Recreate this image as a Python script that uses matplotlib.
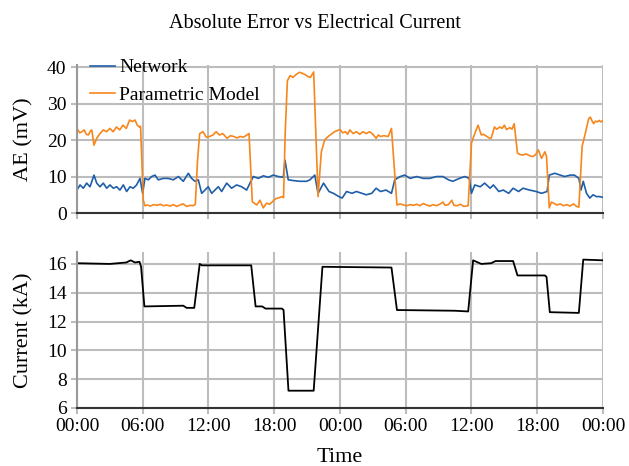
import matplotlib
matplotlib.use("Agg")
import matplotlib.pyplot as plt
import matplotlib.dates as mdates
import pandas as pd

plt.rcParams['font.family'] = ['Liberation Serif', 'DejaVu Serif']

# Absolute error (mV), hours since start
net_hours = [0.0, 0.28, 0.58, 0.88, 1.19, 1.55, 1.8, 2.1, 2.4, 2.71, 3.01, 3.32, 3.62, 3.92,
             4.23, 4.53, 4.84, 5.14, 5.44, 5.75, 5.99, 6.2, 6.51, 6.81, 7.12, 7.42, 7.88,
             8.33, 8.79, 9.25, 9.7, 10.16, 10.46, 10.77, 11.07, 11.38, 11.68, 11.98, 12.29,
             12.59, 12.9, 13.2, 13.66, 14.11, 14.57, 15.03, 15.48, 15.79, 16.09, 16.55,
             17.0, 17.46, 17.91, 18.37, 18.83, 18.98, 19.28, 19.74, 20.35, 20.95, 21.26,
             21.7, 22.0, 22.5, 23.0, 23.4, 23.9, 24.2, 24.6, 25.1, 25.5, 26.0, 26.4, 26.9,
             27.3, 27.7, 28.2, 28.7, 29.0, 29.5, 29.9, 30.4, 31.0, 31.6, 32.2, 32.8, 33.4,
             33.9, 34.3, 34.9, 35.4, 35.8, 36.0, 36.3, 36.8, 37.2, 37.7, 38.0, 38.5, 38.9,
             39.4, 39.8, 40.3, 40.7, 41.3, 41.9, 42.4, 42.9, 43.1, 43.6, 44.1, 44.5, 45.0,
             45.4, 45.8, 46.0, 46.2, 46.5, 46.8, 47.1, 47.4, 47.7, 48.0]
net_ae = [6.3, 7.7, 6.8, 8.2, 7.2, 10.4, 8.2, 7.2, 8.2, 6.8, 7.7, 6.8, 7.2, 6.3,
          7.7, 5.9, 7.2, 6.8, 7.7, 9.5, 5.4, 9.5, 9.1, 10.0, 10.4, 9.1, 9.5,
          9.5, 9.1, 10.0, 8.7, 10.9, 9.5, 8.7, 9.1, 5.4, 6.3, 7.2, 5.4,
          6.3, 7.2, 5.9, 8.2, 6.8, 7.7, 7.2, 6.3, 8.2, 10.0, 9.5,
          10.2, 9.8, 10.4, 10.0, 9.8, 14.5, 9.1, 8.9, 8.7, 8.7, 9.1,
          10.4, 5.4, 8.2, 5.9, 5.4, 4.5, 4.1, 5.9, 5.4, 5.9, 5.4, 5.0, 5.4,
          6.8, 5.9, 6.3, 5.4, 9.1, 10.0, 10.4, 9.5, 10.0, 9.5, 9.5, 10.0, 10.0,
          9.1, 8.7, 9.5, 10.0, 9.5, 5.4, 7.7, 7.2, 8.2, 6.8, 7.7, 5.9, 6.3,
          5.4, 6.8, 5.9, 6.8, 6.3, 5.9, 5.4, 5.9, 10.4, 10.9, 10.4, 10.0, 10.4,
          10.4, 9.5, 6.3, 8.7, 5.4, 4.1, 5.0, 4.5, 4.5, 4.3]

par_hours = [0.0, 0.25, 0.45, 0.65, 0.85, 1.04, 1.2, 1.35, 1.55, 1.8, 2.1, 2.4, 2.7, 3.0,
             3.3, 3.6, 3.9, 4.2, 4.5, 4.8, 5.05, 5.3, 5.5, 5.7, 5.8, 6.05, 6.2, 6.4, 6.7,
             7.0, 7.3, 7.6, 7.9, 8.2, 8.5, 8.8, 9.1, 9.4, 9.7, 10.0, 10.3, 10.6, 10.8,
             11.0, 11.2, 11.5, 11.8, 12.1, 12.4, 12.7, 13.0, 13.3, 13.7, 14.0, 14.3, 14.6,
             14.9, 15.2, 15.5, 15.7, 16.0, 16.4, 16.7, 17.0, 17.3, 17.6, 17.8, 18.0, 18.2,
             18.45, 18.7, 18.85, 19.0, 19.2, 19.45, 19.7, 20.0, 20.3, 20.6, 20.9, 21.1,
             21.3, 21.6, 22.0, 22.3, 22.6, 22.85, 23.1, 23.5, 24.0, 24.25, 24.5, 24.7,
             24.9, 25.2, 25.5, 25.8, 26.1, 26.4, 26.7, 27.0, 27.3, 27.5, 27.7, 28.0, 28.4,
             28.7, 29.2, 29.5, 29.8, 30.1, 30.4, 30.7, 31.0, 31.3, 31.6, 31.9, 32.2, 32.5,
             32.8, 33.1, 33.4, 33.6, 33.9, 34.2, 34.4, 34.7, 35.0, 35.3, 35.7, 36.0, 36.3,
             36.6, 36.9, 37.1, 37.4, 37.6, 37.8, 38.1, 38.3, 38.6, 38.8, 39.0, 39.2, 39.5,
             39.7, 39.9, 40.2, 40.45, 40.7, 40.95, 41.2, 41.4, 41.6, 41.85, 42.1, 42.4,
             42.7, 42.85, 43.1, 43.3, 43.5, 43.8, 44.1, 44.4, 44.7, 45.0, 45.3, 45.6, 45.8,
             46.1, 46.4, 46.7, 46.85, 47.0, 47.15, 47.3, 47.5, 47.65, 47.8, 48.0]
par_ae = [23.2, 22.0, 22.3, 22.8, 21.6, 21.4, 22.4, 22.8, 18.6, 20.5, 21.8, 22.8, 22.3, 23.2,
          22.3, 23.6, 22.8, 24.1, 23.2, 25.5, 25.1, 25.5, 24.1, 23.6, 23.8, 3.5, 2.0, 2.2, 1.9,
          2.3, 2.1, 2.4, 2.0, 2.2, 1.9, 2.3, 1.8, 2.2, 2.5, 1.8, 2.1, 2.0, 2.4,
          14.5, 21.8, 22.3, 20.8, 21.0, 21.4, 22.3, 21.4, 21.8, 20.5, 21.2, 21.0, 20.6,
          21.0, 20.8, 21.4, 21.8, 3.1, 2.2, 3.5, 1.4, 2.7, 2.4, 3.0, 3.6, 4.0,
          4.2, 4.5, 4.2, 21.8, 36.3, 37.7, 37.2, 38.0, 38.6, 38.3, 37.8, 37.4,
          37.2, 38.7, 4.5, 16.8, 20.0, 20.8, 21.4, 22.3, 22.9, 22.0, 22.3, 21.6,
          22.8, 21.8, 22.3, 21.6, 22.3, 21.8, 22.3, 21.6, 20.5, 21.4, 21.0, 21.2, 21.0,
          23.2, 2.2, 2.5, 2.2, 2.0, 2.3, 2.1, 2.4, 2.0, 2.6, 2.2, 1.9, 2.3,
          2.0, 2.4, 3.0, 2.1, 2.3, 3.5, 2.1, 2.0, 2.4, 1.8, 2.0, 19.2, 21.8,
          24.1, 21.4, 21.6, 21.0, 20.6, 20.5, 23.6, 23.0, 23.6, 23.2, 24.1, 22.9, 23.4,
          23.0, 24.5, 16.4, 16.0, 15.9, 16.2, 15.9, 15.6, 15.5, 16.0, 17.3, 15.0,
          16.8, 15.5, 1.4, 3.0, 2.7, 2.2, 2.5, 2.0, 2.3, 1.9, 2.5, 1.8, 1.6,
          18.3, 22.0, 25.9, 26.3, 25.3, 24.5, 25.2, 25.0, 25.4, 25.0, 25.4]

# Electrical current (kA)
cur_hours = [0.0, 3.0, 4.5, 4.9, 5.3, 5.7, 5.85, 6.15, 9.7, 10.0, 10.7, 11.2, 11.4, 15.9,
             16.3, 16.9, 17.2, 18.7, 18.85, 19.3, 21.6, 22.4, 28.7, 29.2, 34.5, 35.7,
             36.15, 36.9, 37.8, 38.2, 39.8, 40.2, 42.7, 42.85, 43.15, 45.8, 46.2, 48.0]
cur_ka = [16.05, 16.0, 16.1, 16.25, 16.1, 16.15, 15.8, 13.05, 13.1, 12.95, 12.95, 16.0, 15.9, 15.9,
          13.05, 13.05, 12.9, 12.9, 12.8, 7.2, 7.2, 15.8, 15.75, 12.8, 12.75, 12.7,
          16.25, 16.0, 16.05, 16.2, 16.2, 15.2, 15.2, 15.1, 12.65, 12.6, 16.3, 16.25]

start = pd.Timestamp("2021-01-01 00:00")


def to_time(hours):
    return start + pd.to_timedelta(hours, unit="h")


fig = plt.figure(figsize=(6.29, 4.66), dpi=100)
ax1 = fig.add_axes([0.1224, 0.5429, 0.8362, 0.3176])
ax2 = fig.add_axes([0.1224, 0.1245, 0.8362, 0.3348])

ax1.plot(to_time(net_hours), net_ae, color="#1f5ea8", lw=1.2, label="Network")
ax1.plot(to_time(par_hours), par_ae, color="#f7861c", lw=1.2, label="Parametric Model")
ax2.plot(to_time(cur_hours), cur_ka, color="black", lw=1.3)

for ax in (ax1, ax2):
    ax.set_xlim(start, start + pd.Timedelta(hours=48))
    ax.xaxis.set_major_locator(mdates.HourLocator(byhour=[0, 6, 12, 18]))
    ax.xaxis.set_major_formatter(mdates.DateFormatter("%H:%M"))
    ax.grid(True, color="#bdbdbd", lw=1.5)
    ax.set_axisbelow(True)
    ax.spines["top"].set_visible(False)
    ax.spines["right"].set_visible(False)
    ax.spines["left"].set_color("#999999")
    ax.spines["left"].set_linewidth(1.5)
    ax.spines["bottom"].set_color("#333333")
    ax.spines["bottom"].set_linewidth(1.5)
    ax.tick_params(axis="both", colors="#bdbdbd", width=1.5, length=4,
                   labelcolor="black", labelsize=14)

ax1.set_ylim(0, 40.6)
ax1.set_yticks([0, 10, 20, 30, 40])
ax1.tick_params(axis="x", labelbottom=False)
ax1.set_ylabel("AE (mV)", fontsize=16)
ax1.yaxis.set_label_coords(-0.083, 0.5)
fig.suptitle("Absolute Error vs Electrical Current", fontsize=14.5, x=0.5, y=0.94,
             va="baseline")
ax1.legend(loc="upper left", bbox_to_anchor=(0.01, 1.095), frameon=False, fontsize=14,
           handlelength=1.3, handletextpad=0.2, borderaxespad=0, labelspacing=0.5)

ax2.set_ylim(6, 16.83)
ax2.set_yticks([6, 8, 10, 12, 14, 16])
ax2.set_ylabel("Current (kA)", fontsize=16)
ax2.yaxis.set_label_coords(-0.083, 0.5)
ax2.set_xlabel("Time", fontsize=16)
ax2.xaxis.set_label_coords(0.5, -0.258)

fig.savefig("out.png", dpi=100)
